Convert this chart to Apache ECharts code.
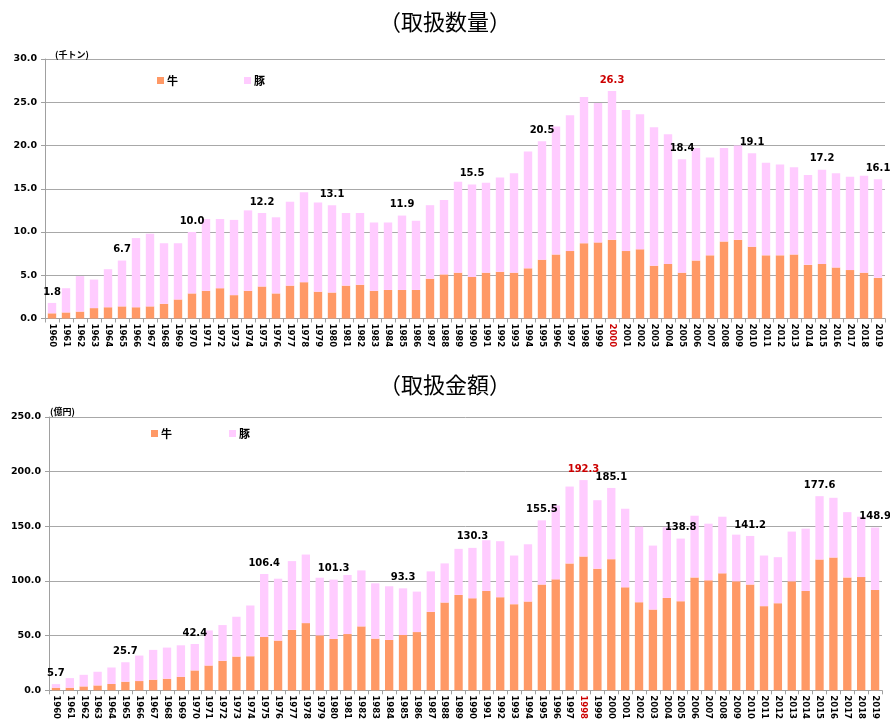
<!DOCTYPE html>
<html><head><meta charset="utf-8">
<script src="https://cdn.jsdelivr.net/npm/echarts@6/dist/echarts.min.js"></script>
<style>html,body{margin:0;padding:0;background:#fff}#c{width:890px;height:722px}</style>
</head><body><div id="c"></div>
<script>
const years = [];
for (let y = 1960; y <= 2019; y++) years.push(String(y));

// 取扱数量 (千トン)
const qtyBeef = [0.6,0.7,0.8,1.2,1.3,1.4,1.3,1.4,1.7,2.2,2.9,3.2,3.5,2.7,3.2,3.7,2.9,3.8,4.2,3.1,3.0,3.8,3.9,3.2,3.3,3.3,3.3,4.6,5.1,5.3,4.8,5.3,5.4,5.3,5.8,6.8,7.4,7.8,8.7,8.8,9.1,7.8,8.0,6.1,6.3,5.3,6.7,7.3,8.9,9.1,8.3,7.3,7.3,7.4,6.2,6.3,5.9,5.6,5.3,4.7];
const qtyPork = [1.2,2.8,4.1,3.3,4.4,5.3,8.0,8.4,7.0,6.5,7.1,8.3,8.0,8.7,9.3,8.5,8.8,9.7,10.4,10.3,10.1,8.4,8.3,7.9,7.8,8.6,8.0,8.5,8.6,10.5,10.7,10.4,10.9,11.5,13.5,13.7,14.8,15.7,16.9,16.1,17.2,16.3,15.6,16.0,15.0,13.1,13.0,11.3,10.8,10.9,10.8,10.7,10.5,10.1,10.4,10.9,10.9,10.8,11.2,11.4];
const qtyLabelYears = ['1960','1965','1970','1975','1980','1985','1990','1995','2000','2005','2010','2015','2019'];
const qtyLabelVals  = ['1.8','6.7','10.0','12.2','13.1','11.9','15.5','20.5','26.3','18.4','19.1','17.2','16.1'];
const qtyPeakYear = '2000';

// 取扱金額 (億円)
const amtBeef = [2.4,2.4,3.6,4.5,5.8,7.9,8.5,9.7,10.6,12.4,18.2,22.7,27.0,30.9,31.2,48.8,45.5,55.3,61.5,50.3,47.0,51.5,58.5,47.3,46.1,50.6,53.3,71.8,80.3,87.3,84.2,90.9,85.2,78.8,81.2,96.7,101.5,116.1,122.4,111.2,120.0,94.2,80.6,73.9,84.5,81.5,103.3,100.6,107.0,99.7,96.7,77.0,79.7,99.7,90.9,119.7,121.5,103.3,103.6,91.8];
const amtPork = [3.3,8.8,10.6,12.5,15.1,17.8,23.3,27.3,28.5,28.8,24.2,32.1,32.7,36.4,46.4,57.6,56.6,62.9,62.7,52.7,54.3,54.0,51.2,50.6,49.1,42.7,37.0,37.0,35.8,42.1,46.1,46.4,51.2,44.5,52.4,58.8,67.6,70.3,69.9,62.7,65.1,71.9,69.1,58.5,64.6,57.3,56.4,51.8,51.8,42.7,44.5,46.3,42.1,45.5,57.0,57.9,54.6,59.7,55.2,57.1];
const amtLabelYears = ['1960','1965','1970','1975','1980','1985','1990','1995','1998','2000','2005','2010','2015','2019'];
const amtLabelVals  = ['5.7','25.7','42.4','106.4','101.3','93.3','130.3','155.5','192.3','185.1','138.8','141.2','177.6','148.9'];
const amtPeakYear = '1998';

const yTicksQty = {min:0, max:30, interval:5};
const yTicksAmt = {min:0, max:250, interval:50};

const BEEF = '#FF9966', PORK = '#FFCCFF', RED = '#CC0000';
const FONT = 'DejaVu Sans';

function catData(peak){
  return years.map(y => y === peak ? {value:y, textStyle:{color:RED}} : y);
}
function labelFn(ly, lv){
  return p => { const i = ly.indexOf(years[p.dataIndex]); return i >= 0 ? lv[i] : ''; };
}
function xAxis(gi, peak){
  return {
    type:'category', gridIndex:gi, data:catData(peak),
    axisLine:{lineStyle:{color:'#a0a0a0'}},
    axisTick:{show:true, length:4, lineStyle:{color:'#a0a0a0'}},
    axisLabel:{rotate:-90, interval:0, fontSize:8.5, fontWeight:'bold', color:'#000', fontFamily:FONT, margin:5}
  };
}
function yAxis(gi, t, dec){
  return {
    type:'value', gridIndex:gi, min:t.min, max:t.max, interval:t.interval,
    axisLine:{show:true, lineStyle:{color:'#a0a0a0'}},
    axisTick:{show:true, length:4, lineStyle:{color:'#a0a0a0'}},
    splitLine:{lineStyle:{color:'#a8a8a8'}},
    axisLabel:{formatter:v => v.toFixed(dec), fontSize:9.5, fontWeight:'bold', color:'#000', fontFamily:FONT, margin:8}
  };
}
function labelRich(ly, lv, peak){
  return {
    show:true, position:'top', distance:6,
    fontSize:10, fontWeight:'bold', fontFamily:FONT,
    color: '#000',
    formatter: labelFn(ly, lv)
  };
}

const chart = echarts.init(document.getElementById('c'), null, {renderer:'canvas'});
chart.setOption({
  animation:false,
  backgroundColor:'#fff',
  title:[
    {text:'（取扱数量）', left:'center', top:6, textStyle:{fontSize:22, fontWeight:'normal', color:'#000', fontFamily:'Noto Sans CJK JP'}},
    {text:'（取扱金額）', left:'center', top:369, textStyle:{fontSize:22, fontWeight:'normal', color:'#000', fontFamily:'Noto Sans CJK JP'}},
    {text:'(千トン)', left:50, top:45, textStyle:{fontSize:9, fontWeight:'bold', color:'#000', fontFamily:'Noto Sans CJK JP'}},
    {text:'(億円)', left:45, top:402, textStyle:{fontSize:9, fontWeight:'bold', color:'#000', fontFamily:'Noto Sans CJK JP'}}
  ],
  legend:[
    {data:['牛','豚'], left:152, top:70, itemWidth:7, itemHeight:7, itemGap:66, icon:'rect',
     textStyle:{fontSize:11, fontWeight:'bold', color:'#000', fontFamily:'Noto Sans CJK JP', padding:[0,0,0,-2]}},
    {data:['牛','豚'], left:146, top:423, itemWidth:7, itemHeight:7, itemGap:57, icon:'rect',
     textStyle:{fontSize:11, fontWeight:'bold', color:'#000', fontFamily:'Noto Sans CJK JP', padding:[0,0,0,-2]}}
  ],
  grid:[
    {left:45, right:5, top:59, height:259.5},
    {left:49, right:8, top:417, height:275}
  ],
  xAxis:[xAxis(0, qtyPeakYear), xAxis(1, amtPeakYear)],
  yAxis:[yAxis(0, yTicksQty, 1), yAxis(1, yTicksAmt, 1)],
  series:[
    {name:'牛', type:'bar', stack:'q', xAxisIndex:0, yAxisIndex:0, data:qtyBeef, barWidth:'60%', itemStyle:{color:BEEF}},
    {name:'豚', type:'bar', stack:'q', xAxisIndex:0, yAxisIndex:0, barWidth:'60%', itemStyle:{color:PORK},
     data:qtyPork.map((v,i) => years[i] === qtyPeakYear ? {value:v, label:{color:RED}} : v),
     label:labelRich(qtyLabelYears, qtyLabelVals)},
    {name:'牛', type:'bar', stack:'a', xAxisIndex:1, yAxisIndex:1, data:amtBeef, barWidth:'60%', itemStyle:{color:BEEF}},
    {name:'豚', type:'bar', stack:'a', xAxisIndex:1, yAxisIndex:1, barWidth:'60%', itemStyle:{color:PORK},
     data:amtPork.map((v,i) => years[i] === amtPeakYear ? {value:v, label:{color:RED}} : v),
     label:labelRich(amtLabelYears, amtLabelVals)}
  ]
});
</script></body></html>
